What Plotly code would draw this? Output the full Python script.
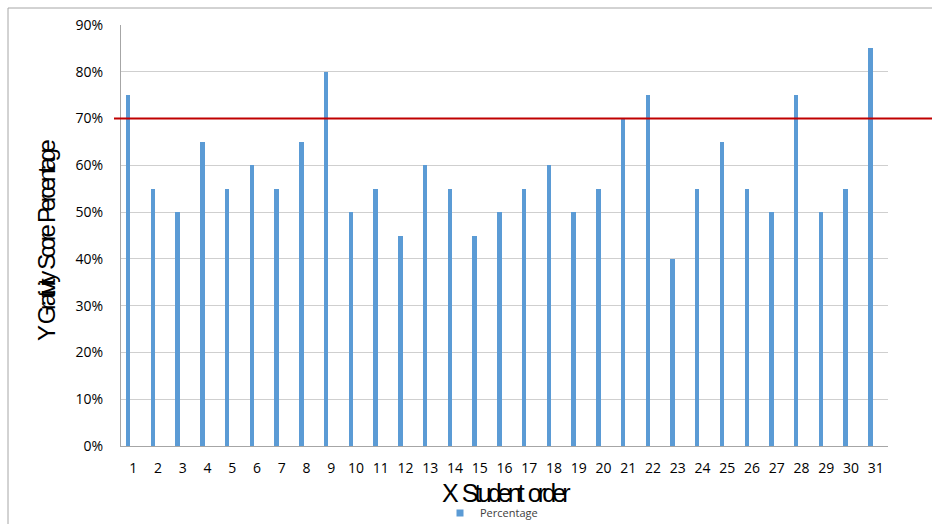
import plotly.graph_objects as go

students = list(range(1, 32))
percentage = [75, 55, 50, 65, 55, 60, 55, 65, 80, 50, 55, 45, 60, 55, 45, 50,
              55, 60, 50, 55, 70, 75, 40, 55, 65, 55, 50, 75, 50, 55, 85]
threshold = 70
y_ticks = [0, 10, 20, 30, 40, 50, 60, 70, 80, 90]
y_ticklabels = [f"{v}%" for v in y_ticks]

W, H = 932, 524
L, R, T, B = 121, 44, 25, 78
pw, ph = W - L - R, H - T - B
BAR = "#5b9bd5"

fig = go.Figure()
fig.add_trace(go.Bar(
    x=students, y=percentage, name="Percentage",
    marker=dict(color=BAR, line=dict(width=0)),
    width=0.18, offset=-0.3, showlegend=False,
))
# legend entry
fig.add_trace(go.Scatter(
    x=[None], y=[None], mode="markers", name="Percentage",
    marker=dict(symbol="square", size=7, color=BAR), showlegend=True,
))

tick_font = dict(family="Open Sans, Liberation Sans, sans-serif", size=14, color="#000000")

fig.update_layout(
    width=W, height=H,
    margin=dict(l=L, r=R, t=T, b=B, autoexpand=False),
    paper_bgcolor="white", plot_bgcolor="white",
    showlegend=True,
    legend=dict(orientation="h", x=(440 - L) / pw, xanchor="left",
                y=-(513 - T - ph) / ph, yanchor="middle",
                font=dict(family="Open Sans, sans-serif", size=11, color="#404040"),
                itemwidth=30, bgcolor="rgba(0,0,0,0)", borderwidth=0),
    xaxis=dict(range=[0.5, 31.5], tickmode="array", tickvals=students,
               ticktext=[str(s) for s in students], tickfont=tick_font,
               showgrid=False, showline=True, linecolor="#a6a6a6", linewidth=1,
               ticks="", zeroline=False, ticklabelstandoff=9, automargin=False),
    yaxis=dict(range=[0, 90], tickmode="array", tickvals=y_ticks, ticktext=y_ticklabels,
               tickfont=tick_font, showgrid=True, gridcolor="#cfcfcf", gridwidth=1,
               showline=True, linecolor="#a6a6a6", linewidth=1, ticks="",
               zeroline=False, ticklabelstandoff=14, automargin=False),
    bargap=0,
)

# chart border
fig.add_shape(type="rect", xref="paper", yref="paper",
              x0=(8 - L) / pw, x1=(W + 20 - L) / pw,
              y0=-(B + 20) / ph, y1=1 + (T - 8) / ph,
              line=dict(color="#a6a6a6", width=1), fillcolor="rgba(0,0,0,0)", layer="below")

# threshold line
fig.add_shape(type="line", xref="paper", yref="y",
              x0=(114 - L) / pw, x1=(W + 5 - L) / pw, y0=threshold, y1=threshold,
              line=dict(color="#c00000", width=2))

title_font = dict(family="Liberation Sans, Arial, sans-serif", size=24, color="#000000")
fig.add_annotation(text='<span style="letter-spacing:-4.3px;word-spacing:3px">Y Grativity Score Percentage</span>',
                   xref="paper", yref="paper",
                   x=(46 - L) / pw, y=1 - (240 - T) / ph, textangle=-90,
                   showarrow=False, font=title_font, xanchor="center", yanchor="middle")
fig.add_annotation(text='<span style="letter-spacing:-3.9px;word-spacing:4px">X Student order</span>',
                   xref="paper", yref="paper",
                   x=(506 - L) / pw, y=-(493 - T - ph) / ph, showarrow=False,
                   font=dict(family="Liberation Sans, Arial, sans-serif", size=25, color="#000000"),
                   xanchor="center", yanchor="middle")

fig.write_html("out.html", config={"displayModeBar": False},
               post_script="document.body.style.margin='0px';document.body.style.overflow='hidden';")
